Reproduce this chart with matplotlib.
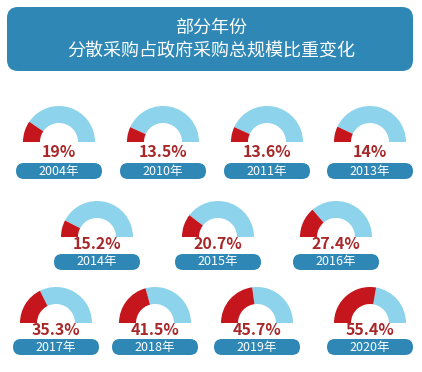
import matplotlib
matplotlib.use('Agg')
import matplotlib.pyplot as plt
from matplotlib.patches import Wedge, FancyBboxPatch

plt.rcParams['font.family'] = ['Noto Sans CJK SC', 'DejaVu Sans']

title_lines = ['部分年份', '分散采购占政府采购总规模比重变化']
years = ['2004年', '2010年', '2011年', '2013年', '2014年', '2015年',
         '2016年', '2017年', '2018年', '2019年', '2020年']
shares = [19, 13.5, 13.6, 14, 15.2, 20.7, 27.4, 35.3, 41.5, 45.7, 55.4]
share_labels = ['19%', '13.5%', '13.6%', '14%', '15.2%', '20.7%',
                '27.4%', '35.3%', '41.5%', '45.7%', '55.4%']

W, H = 422, 372
blue = '#2f87b5'
light = '#8dd3ec'
red = '#c4161c'
dark_red = '#a8282a'

# layout in pixels: (x centre, arc baseline, percent y, pill y)
rows = [
    ([59, 163, 267, 370], 142, 152, 171),
    ([97, 218, 336], 237, 244, 262),
    ([56, 155, 257, 370], 323, 330, 347),
]
slots = []
for xs, base, pct_y, pill_y in rows:
    for x in xs:
        slots.append((x, base, pct_y, pill_y))

fig = plt.figure(figsize=(W / 100, H / 100), dpi=100)
ax = fig.add_axes([0, 0, 1, 1])
ax.set_xlim(0, W)
ax.set_ylim(0, H)
ax.axis('off')


def fy(y):
    return H - y


# header box
ax.add_patch(FancyBboxPatch((7, fy(71)), 406, 64,
                            boxstyle='round,pad=0,rounding_size=11',
                            facecolor=blue, edgecolor='none'))
ax.text(W / 2, fy(28), title_lines[0], color='white', fontsize=13,
        ha='center', va='center')
ax.text(W / 2, fy(51), title_lines[1], color='white', fontsize=13,
        ha='center', va='center')

r_out, ring = 36, 17
for (x, base, pct_y, pill_y), year, share, lab in zip(slots, years, shares, share_labels):
    split = 180 - share / 100 * 180
    ax.add_patch(Wedge((x, fy(base)), r_out, 0, split, width=ring,
                       facecolor=light, edgecolor='none'))
    ax.add_patch(Wedge((x, fy(base)), r_out, split, 180, width=ring,
                       facecolor=red, edgecolor='none'))
    ax.text(x, fy(pct_y), lab, color=dark_red, fontsize=11.5, fontweight='heavy',
            ha='center', va='center')
    ax.add_patch(FancyBboxPatch((x - 43, fy(pill_y) - 8), 86, 16,
                                boxstyle='round,pad=0,rounding_size=8',
                                facecolor=blue, edgecolor='none'))
    ax.text(x, fy(pill_y), year, color='white', fontsize=9,
            ha='center', va='center')

fig.savefig('out.png', dpi=100)
